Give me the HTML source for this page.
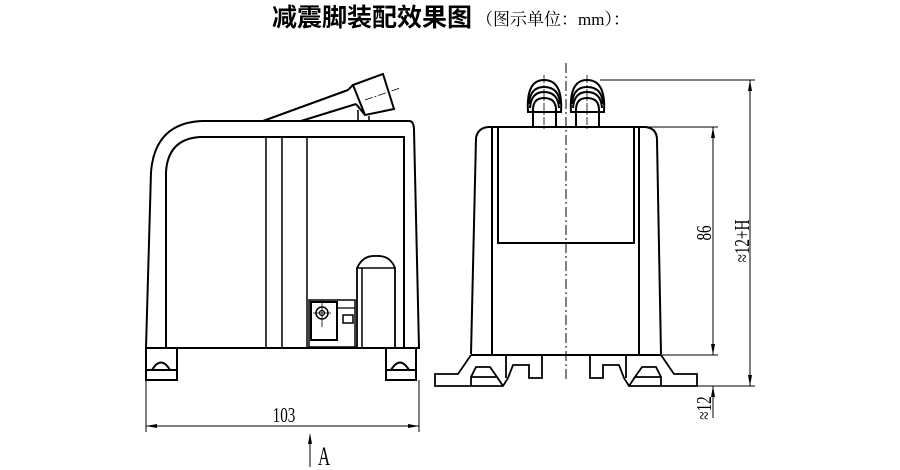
<!DOCTYPE html>
<html><head><meta charset="utf-8"><style>
html,body{margin:0;padding:0;background:#fff;}
svg{display:block;}
</style></head><body>
<svg width="900" height="470" viewBox="0 0 900 470" xmlns="http://www.w3.org/2000/svg">
<text x="272" y="26" font-family="Liberation Sans,'Noto Sans CJK SC',sans-serif" font-size="25" font-weight="bold" fill="#000">减震脚装配效果图</text>
<text x="476" y="25" font-family="Liberation Serif,'Noto Serif CJK SC',serif" font-size="17" fill="#000">（图示单位：mm）：</text>

<g fill="none" stroke="#000" stroke-width="2">
<path d="M146,348 L151,172 Q155,123 202,121 L410,121 Q414,122 414,130 L419,348 Z"/>
<path d="M166,348 L166,172 Q168,139 200,137 L404,137 L404,348"/>
<line x1="266" y1="137" x2="266" y2="348" stroke-width="1.5"/>
<line x1="282" y1="137" x2="282" y2="348" stroke-width="1.5"/>
<line x1="307" y1="137" x2="307" y2="348" stroke-width="1.5"/>
<rect x="146" y="348" width="31" height="32"/>
<line x1="146" y1="370" x2="177" y2="370"/>
<path d="M152,370 Q161,355 170,370"/>
<rect x="386" y="348" width="30" height="32"/>
<line x1="386" y1="370" x2="416" y2="370"/>
<path d="M391,370 Q400,355 409,370"/>
<line x1="263" y1="121" x2="348" y2="90"/>
<line x1="301" y1="121" x2="356" y2="104"/>
<path d="M353,85 L383,74 L394,109 L365,115 Z"/>
<path d="M348,90 L353,85 M356,104 L365,115"/>
<line x1="358" y1="110" x2="358" y2="121" stroke-width="1.5"/>
<line x1="369" y1="116" x2="369" y2="121" stroke-width="1.5"/>
<rect x="309" y="300" width="46" height="47" stroke-width="1.5"/>
<rect x="311" y="302" width="26" height="38" stroke-width="2"/>
<circle cx="322" cy="313" r="6" stroke-width="1.5"/>
<circle cx="322" cy="313" r="2.5" stroke-width="1.2"/>
<rect x="343" y="315" width="10" height="8" stroke-width="1.5"/>
<line x1="337" y1="308" x2="355" y2="308" stroke-width="1.2"/>
<path d="M357,347 L357,268 Q363,255 376,256 Q390,255 395,268 L395,347" stroke-width="1.8"/>
<line x1="357" y1="268" x2="395" y2="268" stroke-width="1.5"/>
<line x1="362" y1="268" x2="362" y2="347" stroke-width="1.5"/>

<path d="M471,354 L476,138 Q478,127 490,127 L645,127 Q657,128 657,140 L661,354"/>
<line x1="492" y1="127" x2="492" y2="355"/>
<line x1="639" y1="127" x2="639" y2="355"/>
<rect x="498" y="127" width="136" height="116"/>
<line x1="471" y1="355" x2="661" y2="355"/>
<g stroke-width="2">
<path d="M533,127 L533,110 Q533,98 544,98 Q556,98 556,110 L556,127"/>
<path d="M528,112 Q526,80 544,80 Q563,80 561,112 Z"/>
<path d="M529,104 Q530,87 544,87 Q559,87 560,104"/>
<path d="M530,108 Q531,92 544,92 Q558,92 559,108"/>
<path d="M576,127 L576,110 Q576,98 587,98 Q599,98 599,110 L599,127"/>
<path d="M571,112 Q569,80 587,80 Q606,80 604,112 Z"/>
<path d="M572,104 Q573,87 587,87 Q602,87 603,104"/>
<path d="M573,108 Q574,92 587,92 Q601,92 602,108"/>
</g>
<g stroke-width="1.8">
<path d="M471,355 L458,374 L435,374 L435,386 L503,386 L508,378 L513,365 L529,365 L529,378 L542,378 L542,355"/>
<path d="M471,386 L471,377 L476,367 L490,367 L497,377 L471,377"/>
<line x1="506" y1="355" x2="506" y2="378"/>
<path d="M497,377 L503,386"/>
<path d="M661,355 L674,374 L697,374 L697,386 L629,386 L624,378 L619,365 L603,365 L603,378 L590,378 L590,355"/>
<path d="M661,386 L661,377 L656,367 L642,367 L635,377 L661,377"/>
<line x1="626" y1="355" x2="626" y2="378"/>
<path d="M635,377 L629,386"/>
</g>
</g>
<line x1="566" y1="63" x2="566" y2="381" stroke="#000" stroke-width="1" stroke-dasharray="10,3,2,3"/>
<line x1="544" y1="75" x2="544" y2="130" stroke="#000" stroke-width="0.8" stroke-dasharray="8,2,2,2"/>
<line x1="587" y1="75" x2="587" y2="130" stroke="#000" stroke-width="0.8" stroke-dasharray="8,2,2,2"/>
<line x1="322" y1="300" x2="322" y2="327" stroke="#000" stroke-width="0.8"/>
<line x1="313" y1="313" x2="331" y2="313" stroke="#000" stroke-width="0.8"/>
<line x1="365" y1="100" x2="400" y2="88" stroke="#000" stroke-width="0.8" stroke-dasharray="8,2,2,2"/>

<g stroke="#000" stroke-width="1" fill="none">
<line x1="146" y1="380" x2="146" y2="432"/>
<line x1="419" y1="380" x2="419" y2="432"/>
<line x1="146" y1="426" x2="419" y2="426"/>
<line x1="310" y1="435" x2="310" y2="467"/>
<line x1="640" y1="127" x2="718" y2="127"/>
<line x1="600" y1="80" x2="755" y2="80"/>
<line x1="661" y1="355" x2="718" y2="355"/>
<line x1="697" y1="386" x2="755" y2="386"/>
<line x1="713" y1="127" x2="713" y2="355"/>
<line x1="713" y1="386" x2="713" y2="418"/>
<line x1="750" y1="80" x2="750" y2="386"/>
</g>
<g fill="#000">
<path d="M146,426 L157,424 L157,428 Z"/><path d="M419,426 L408,424 L408,428 Z"/>
<path d="M310,433 L308,444 L312,444 Z"/>
<path d="M713,127 L711,138 L715,138 Z"/><path d="M713,355 L711,344 L715,344 Z"/>
<path d="M713,386 L711,397 L715,397 Z"/>
<path d="M750,80 L748,91 L752,91 Z"/><path d="M750,386 L748,375 L752,375 Z"/>
</g>
<g font-family="Liberation Serif,serif" font-size="21" fill="#000">
<text transform="translate(284,422) scale(0.72,1)" text-anchor="middle">103</text>
<text transform="translate(318,465) scale(0.65,1)" font-size="26">A</text>
<text transform="translate(711,233) rotate(-90) scale(0.72,1)" text-anchor="middle">86</text>
<text transform="translate(749,241) rotate(-90) scale(0.72,1)" text-anchor="middle">≈12+H</text>
<text transform="translate(711,408) rotate(-90) scale(0.72,1)" text-anchor="middle">≈12</text>
</g>
</svg>
</body></html>
